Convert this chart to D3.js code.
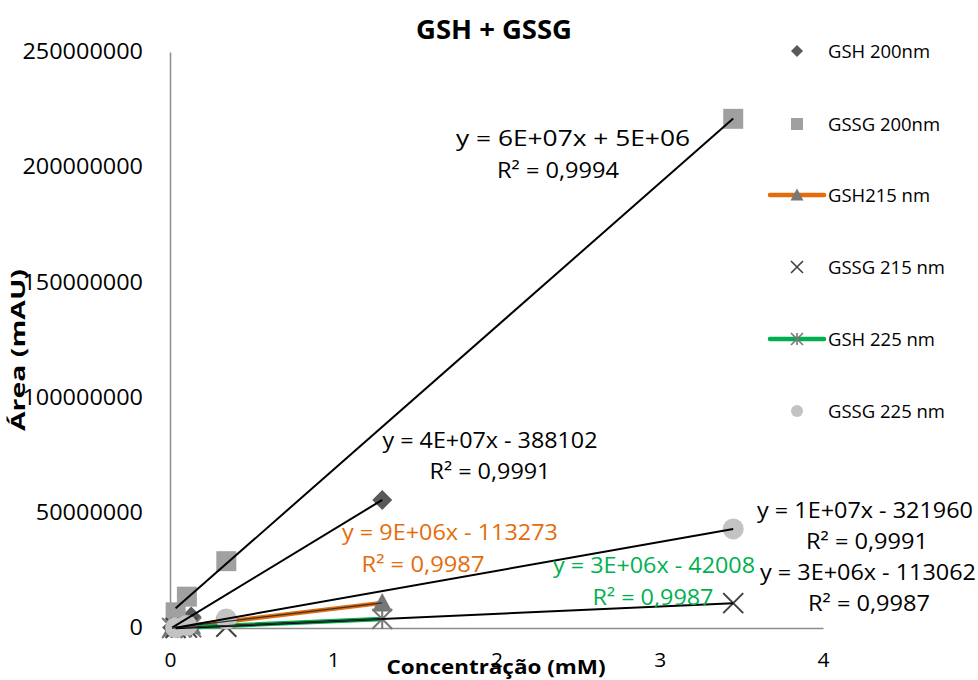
<!DOCTYPE html>
<html>
<head>
<meta charset="utf-8">
<script src="https://cdn.jsdelivr.net/npm/d3@7"></script>
<style>
  html, body { margin: 0; padding: 0; background: #fff; }
  svg { display: block; font-family: "Open Sans", "Liberation Sans", sans-serif; }
</style>
</head>
<body>
<svg id="chart" width="978" height="680"></svg>
<script>
// Concentrations (mM)
const gshConc  = [0.013, 0.065, 0.13, 1.3];
const gssgConc = [0.0345, 0.1035, 0.345, 3.45];

// Peak areas (mAU) per wavelength
const gsh200  = [0.25e6, 2.4e6, 5.0e6, 55.6e6];
const gssg200 = [6.8e6, 13.6e6, 29.0e6, 221.0e6];
const gsh215  = [0.05e6, 0.45e6, 1.0e6, 10.9e6];
const gssg215 = [0.02e6, 0.15e6, 0.55e6, 10.8e6];
const gsh225  = [0.01e6, 0.15e6, 0.33e6, 3.9e6];
const gssg225 = [0.15e6, 1.1e6, 3.9e6, 43.0e6];

const seriesNames = ["GSH 200nm", "GSSG 200nm", "GSH215 nm", "GSSG 215 nm", "GSH 225 nm", "GSSG 225 nm"];

// Trendline equation labels as printed
const eqTexts = [
  "y = 4E+07x - 388102", "y = 6E+07x + 5E+06", "y = 9E+06x - 113273",
  "y = 3E+06x - 113062", "y = 3E+06x - 42008", "y = 1E+07x - 321960"
];
const r2Texts = ["R² = 0,9991", "R² = 0,9994", "R² = 0,9987", "R² = 0,9987", "R² = 0,9987", "R² = 0,9991"];

const xTicks = [0, 1, 2, 3, 4];
const yTicks = [0, 50000000, 100000000, 150000000, 200000000, 250000000];

const titleText = "GSH + GSSG";
const xTitle = "Concentração (mM)";
const yTitle = "Área (mAU)";

// ---- styling / layout ----
const styles = [
  { marker: "diamond",  fill: "#595959", line: null },
  { marker: "square",   fill: "#a0a0a0", line: null },
  { marker: "triangle", fill: "#777777", line: "#e46c0a" },
  { marker: "cross",    fill: "#404040", line: null },
  { marker: "asterisk", fill: "#777777", line: "#00b050" },
  { marker: "circle",   fill: "#c3c3c3", line: null }
];
const labelColors = ["#000", "#000", "#e46c0a", "#000", "#00b050", "#000"];
// equation label placement: [centerX, eqBaseline, eqWidth, r2CenterX, r2Baseline, r2Width]
const labelPos = [
  [490, 448, 215, 490, 479, 121],
  [573, 146, 234, 558, 178, 122],
  [450, 540, 216, 423, 572, 123],
  [868, 580, 216, 869, 611, 122],
  [654, 573, 202, 653, 605, 121],
  [865, 518, 216, 867, 549, 122]
];

const svg = d3.select("#chart");
const x = d3.scaleLinear().domain([0, 4]).range([170, 823]);
const y = d3.scaleLinear().domain([0, 250000000]).range([628, 52]);

const data = [
  { xs: gshConc,  ys: gsh200 },
  { xs: gssgConc, ys: gssg200 },
  { xs: gshConc,  ys: gsh215 },
  { xs: gssgConc, ys: gssg215 },
  { xs: gshConc,  ys: gsh225 },
  { xs: gssgConc, ys: gssg225 }
].map((s, i) => ({
  name: seriesNames[i],
  style: styles[i],
  points: s.xs.map((c, j) => ({ x: c, y: s.ys[j] }))
}));

// ---- axes ----
const yAxis = svg.append("g")
  .attr("transform", `translate(${x(0)},0)`)
  .call(d3.axisLeft(y).tickValues(yTicks).tickSize(0).tickPadding(27).tickFormat(d3.format("d")));
yAxis.select(".domain").attr("stroke", "#8c8c8c").attr("stroke-width", 1.5);
yAxis.selectAll("text")
  .attr("font-size", 21).attr("fill", "#000").attr("font-family", "Open Sans")
  .attr("textLength", d => String(d).length * 13.4)
  .attr("lengthAdjust", "spacingAndGlyphs");

const xAxis = svg.append("g")
  .attr("transform", `translate(0,${y(0)})`)
  .call(d3.axisBottom(x).tickValues(xTicks).tickSize(0).tickPadding(25).tickFormat(d3.format("d")));
xAxis.select(".domain").attr("stroke", "#8c8c8c").attr("stroke-width", 1.5);
xAxis.selectAll("text")
  .attr("font-size", 20).attr("fill", "#000").attr("font-family", "Open Sans")
  .attr("textLength", 12).attr("lengthAdjust", "spacingAndGlyphs");

// ---- marker shapes ----
function markerPath(kind, size) {
  const h = size / 2;
  switch (kind) {
    case "diamond":  return `M0,${-h}L${h},0L0,${h}L${-h},0Z`;
    case "square":   return `M${-h},${-h}H${h}V${h}H${-h}Z`;
    case "triangle": return `M0,${-h}L${h},${h * 0.85}L${-h},${h * 0.85}Z`;
    case "circle":   return d3.symbol(d3.symbolCircle, Math.PI * h * h)();
    case "cross":    return `M${-h},${-h}L${h},${h}M${-h},${h}L${h},${-h}`;
    case "asterisk": return `M${-h},${-h}L${h},${h}M${-h},${h}L${h},${-h}M0,${-h}V${h}`;
  }
}
function drawMarker(g, kind, fill, size) {
  const p = g.append("path").attr("d", markerPath(kind, size));
  if (kind === "cross" || kind === "asterisk") {
    p.attr("fill", "none").attr("stroke", fill).attr("stroke-width", size > 14 ? 2 : 1.6);
  } else {
    p.attr("fill", fill);
  }
  return p;
}

// ---- series lines & markers ----
const plot = svg.append("g");
const line = d3.line().x(d => x(d.x)).y(d => y(d.y));
data.forEach(s => {
  if (s.style.line) {
    plot.append("path").datum(s.points).attr("d", line)
      .attr("fill", "none").attr("stroke", s.style.line).attr("stroke-width", 4.5)
      .attr("stroke-linejoin", "round");
  }
  s.points.forEach(p => {
    const g = plot.append("g").attr("transform", `translate(${x(p.x)},${y(p.y)})`);
    drawMarker(g, s.style.marker, s.style.fill, s.style.marker === "circle" ? 21 : 20);
  });
});

// ---- linear trendlines (least squares over each series) ----
function fit(points) {
  const mx = d3.mean(points, d => d.x), my = d3.mean(points, d => d.y);
  let sxy = 0, sxx = 0;
  points.forEach(d => { sxy += (d.x - mx) * (d.y - my); sxx += (d.x - mx) ** 2; });
  const m = sxy / sxx;
  return { m, b: my - m * mx };
}
data.forEach(s => {
  const f = fit(s.points);
  const [x0, x1] = d3.extent(s.points, d => d.x);
  const thin = !!s.style.line;
  plot.append("line")
    .attr("x1", x(x0)).attr("y1", y(f.m * x0 + f.b))
    .attr("x2", x(x1)).attr("y2", y(f.m * x1 + f.b))
    .attr("stroke", thin ? "#333" : "#000")
    .attr("stroke-width", thin ? 1.2 : 2);
});

// ---- trendline equation labels ----
const labels = svg.append("g").attr("font-family", "Open Sans").attr("font-size", 22).attr("text-anchor", "middle");
labelPos.forEach((p, i) => {
  labels.append("text").attr("x", p[0]).attr("y", p[1]).attr("fill", labelColors[i])
    .attr("textLength", p[2]).attr("lengthAdjust", "spacingAndGlyphs").text(eqTexts[i]);
  labels.append("text").attr("x", p[3]).attr("y", p[4]).attr("fill", labelColors[i])
    .attr("textLength", p[5]).attr("lengthAdjust", "spacingAndGlyphs").text(r2Texts[i]);
});

// ---- legend ----
const legendY = [51, 124, 195, 267, 339, 411];
const legendW = [102, 112, 102, 117, 107, 117];
const legend = svg.append("g");
data.forEach((s, i) => {
  const g = legend.append("g").attr("transform", `translate(797,${legendY[i]})`);
  if (s.style.line) {
    g.append("line").attr("x1", -27).attr("x2", 27)
      .attr("stroke", s.style.line).attr("stroke-width", 4.5).attr("stroke-linecap", "round");
  }
  drawMarker(g, s.style.marker, s.style.fill, s.style.marker === "triangle" ? 13 : 12);
  g.append("text").attr("x", 31).attr("y", 6.5)
    .attr("font-size", 18).attr("fill", "#000")
    .attr("textLength", legendW[i]).attr("lengthAdjust", "spacingAndGlyphs")
    .text(s.name);
});

// ---- titles ----
svg.append("text").attr("x", 494).attr("y", 39).attr("text-anchor", "middle")
  .attr("font-size", 26).attr("font-weight", "bold").attr("textLength", 156)
  .attr("lengthAdjust", "spacingAndGlyphs").text(titleText);
svg.append("text").attr("x", 496).attr("y", 674).attr("text-anchor", "middle")
  .attr("font-size", 20).attr("font-weight", "bold").attr("textLength", 219)
  .attr("lengthAdjust", "spacingAndGlyphs").text(xTitle);
svg.append("text").attr("transform", "translate(25,350) rotate(-90)").attr("text-anchor", "middle")
  .attr("font-size", 20).attr("font-weight", "bold").attr("textLength", 162)
  .attr("lengthAdjust", "spacingAndGlyphs").text(yTitle);
</script>
</body>
</html>
